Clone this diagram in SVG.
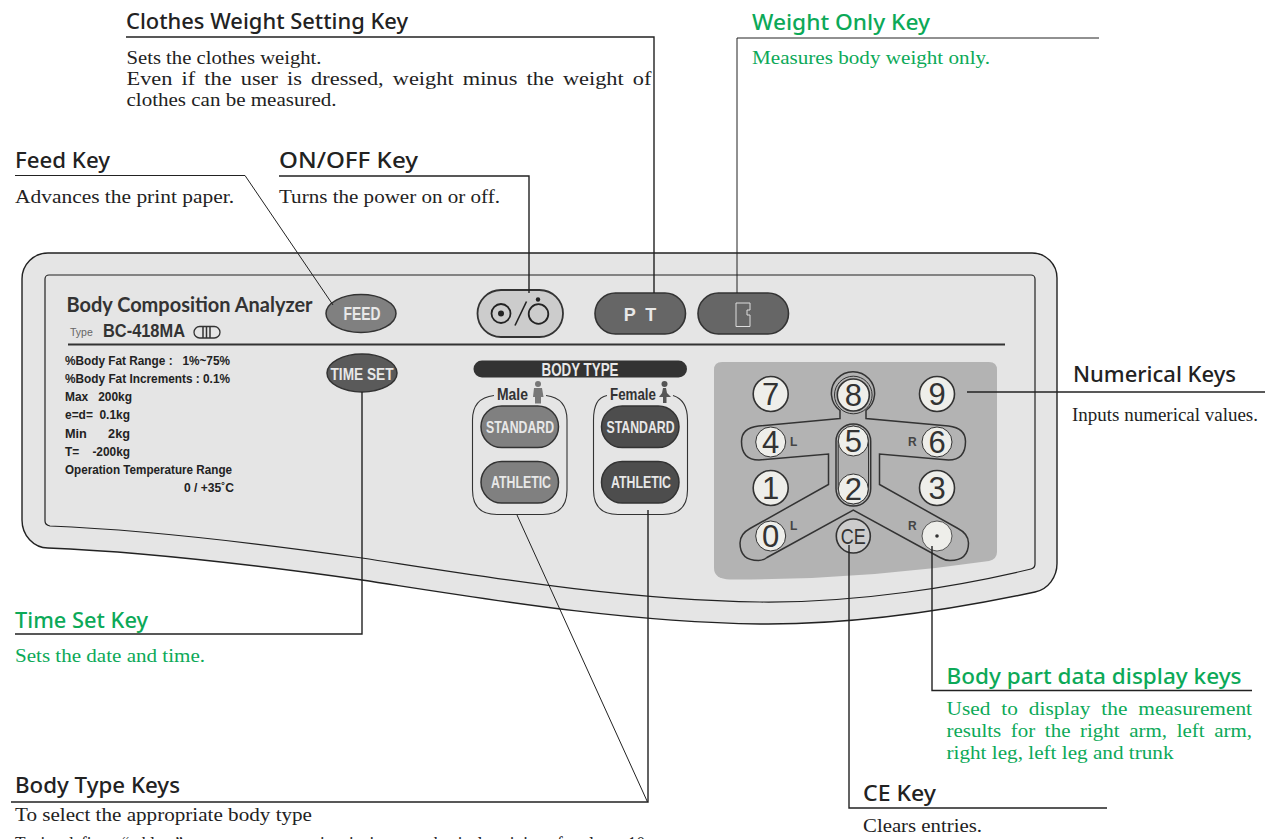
<svg xmlns="http://www.w3.org/2000/svg" width="1265" height="839" viewBox="0 0 1265 839">
<style>
.h{font-family:"Noto Sans","Open Sans",sans-serif;font-size:21.500px;font-weight:500;fill:#222}
.g{fill:#0ca958}
.b{font-family:"Liberation Serif",serif;font-size:19px;fill:#222}
.bg{fill:#0ca958}
.c{fill:none;stroke:#222;stroke-width:1.400}
.s{font-family:"Liberation Sans",sans-serif;font-size:13px;font-weight:700;fill:#222}
.kt{font-family:"Liberation Sans",sans-serif;font-weight:700;fill:#e8e8e8;text-anchor:middle}
.k{fill:#eeeeea;stroke:#333;stroke-width:1.600}
.n{font-family:"Liberation Sans",sans-serif;font-size:31px;fill:#333;text-anchor:middle}
.lr{font-family:"Liberation Sans",sans-serif;font-size:12px;font-weight:700;fill:#444}
.o{fill:none;stroke:#333;stroke-width:1.500}
</style>
<rect width="1265" height="839" fill="#fff"/>
<g id="panel">
<path d="M48 253H1032A25 25 0 0 1 1057 278V563A27 29 0 0 1 1035 592C960 608 860 625 760 624C620 622 480 598 362 580C270 567 150 552 48 548A26 28 0 0 1 22 520V279A26 26 0 0 1 48 253Z" fill="#e5e5e5" stroke="#222" stroke-width="1.400"/>
<path d="M49 275H1031A4 4 0 0 1 1035 279V564Q1035 568 1031 569C960 586 860 603 760 602C620 600 480 576 362 558C270 545 150 530 50 526Q45 525 45 521V279A4 4 0 0 1 49 275Z" fill="none" stroke="#222" stroke-width="1.200"/>
<line x1="68" y1="344.500" x2="1005" y2="344.500" stroke="#333" stroke-width="2"/>
<text x="66.500" y="312" font-family="Lato,sans-serif" font-size="21" font-weight="700" fill="#333" textLength="246" lengthAdjust="spacingAndGlyphs">Body Composition Analyzer</text>
<text x="70" y="336" font-family="Liberation Sans,sans-serif" font-size="10.500" fill="#666">Type</text>
<text x="103" y="337" font-family="Liberation Sans,sans-serif" font-size="18" font-weight="700" fill="#333" textLength="82" lengthAdjust="spacingAndGlyphs">BC-418MA</text>
<rect x="194" y="326.500" width="26" height="11.500" rx="5.700" fill="none" stroke="#333" stroke-width="1.300"/>
<path d="M203 327V338M206.500 327V338M210 327V338" stroke="#333" stroke-width="1.500"/>
<text class="s" x="65" y="365" textLength="165" lengthAdjust="spacingAndGlyphs" xml:space="preserve">%Body Fat Range :   1%~75%</text>
<text class="s" x="65" y="383" textLength="165" lengthAdjust="spacingAndGlyphs">%Body Fat Increments : 0.1%</text>
<text class="s" x="65" y="401" textLength="67" lengthAdjust="spacingAndGlyphs" xml:space="preserve">Max   200kg</text>
<text class="s" x="65" y="419" textLength="65" lengthAdjust="spacingAndGlyphs" xml:space="preserve">e=d=  0.1kg</text>
<text class="s" x="65" y="438" textLength="65" lengthAdjust="spacingAndGlyphs" xml:space="preserve">Min      2kg</text>
<text class="s" x="65" y="456" textLength="65" lengthAdjust="spacingAndGlyphs" xml:space="preserve">T=    -200kg</text>
<text class="s" x="65" y="474" textLength="167" lengthAdjust="spacingAndGlyphs">Operation Temperature Range</text>
<text class="s" x="184" y="492" textLength="50" lengthAdjust="spacingAndGlyphs">0 / +35˚C</text>
</g>
<g id="key-feed">
<ellipse cx="361" cy="313.500" rx="35" ry="19" fill="#808080" stroke="#333" stroke-width="1.500"/>
<text class="kt" x="362" y="320" font-size="19" textLength="37" lengthAdjust="spacingAndGlyphs">FEED</text>
</g>
<g id="key-time-set">
<ellipse cx="362" cy="373" rx="35" ry="19" fill="#5a5a5a" stroke="#333" stroke-width="1.500"/>
<text class="kt" x="362" y="379.500" font-size="17" textLength="63" lengthAdjust="spacingAndGlyphs">TIME SET</text>
</g>
<g id="key-on-off">
<rect x="477.500" y="290" width="85.500" height="47" rx="23.500" fill="#ccc" stroke="#333" stroke-width="1.800"/>
<circle cx="501" cy="313.500" r="9.500" fill="none" stroke="#222" stroke-width="1.800"/>
<circle cx="501" cy="313.500" r="3" fill="#222"/>
<line x1="515" y1="325.500" x2="526.500" y2="301.500" stroke="#222" stroke-width="1.600"/>
<circle cx="538.500" cy="314" r="9.800" fill="none" stroke="#222" stroke-width="1.800"/>
<circle cx="538" cy="299.500" r="2.200" fill="#222"/>
</g>
<g id="key-pt">
<rect x="595" y="293" width="90.500" height="41" rx="20.500" fill="#666" stroke="#333" stroke-width="1.600"/>
<text class="kt" x="640" y="321" font-size="18" xml:space="preserve">P  T</text>
</g>
<g id="key-weight">
<rect x="698" y="293" width="90.500" height="41" rx="20.500" fill="#666" stroke="#333" stroke-width="1.600"/>
<path d="M736 303H750V310H747V315H750V326.500H736Z" fill="none" stroke="#ddd" stroke-width="1"/>
</g>
<g id="body-type">
<rect x="473.500" y="360.500" width="213.500" height="17" rx="8.500" fill="#333"/>
<text class="kt" x="580" y="375.500" font-size="17.500" textLength="77" lengthAdjust="spacingAndGlyphs">BODY TYPE</text>
<path d="M494 395.500Q472.500 398 472.500 420V490Q472.500 514.500 497 514.500H543Q567 514.500 567 490V420Q567 398 546 395.500" class="o" style="stroke-width:1.100"/>
<path d="M607 395.500Q593.500 398 593.500 420V490Q593.500 514.500 618 514.500H663Q687.500 514.500 687.500 490V420Q687.500 400 673 395.500" class="o" style="stroke-width:1.100"/>
<text x="497" y="400" font-family="Liberation Sans,sans-serif" font-size="16.500" font-weight="700" fill="#333" textLength="31" lengthAdjust="spacingAndGlyphs">Male</text>
<text x="610" y="400" font-family="Liberation Sans,sans-serif" font-size="16.500" font-weight="700" fill="#333" textLength="46" lengthAdjust="spacingAndGlyphs">Female</text>
<circle cx="538" cy="384" r="3" fill="#777"/>
<path d="M534 388H542L543.500 397H541V403.500H535V397H533Z" fill="#777"/>
<circle cx="664.500" cy="384" r="3" fill="#555"/>
<path d="M663 388H666L667 393L671 397H666.500V403H663V397H659L662 393Z" fill="#555"/>
</g>
<g id="key-male-standard">
<rect x="481" y="406" width="77.500" height="41.500" rx="20.700" fill="#808080" stroke="#333" stroke-width="1.500"/>
<text class="kt" x="520" y="432.500" font-size="16.500" textLength="68" lengthAdjust="spacingAndGlyphs">STANDARD</text>
</g>
<g id="key-male-athletic">
<rect x="481" y="461.500" width="77.500" height="41.500" rx="20.700" fill="#808080" stroke="#333" stroke-width="1.500"/>
<text class="kt" x="521" y="488" font-size="16.500" textLength="60" lengthAdjust="spacingAndGlyphs">ATHLETIC</text>
</g>
<g id="key-female-standard">
<rect x="601.500" y="406" width="77.500" height="41.500" rx="20.700" fill="#4d4d4d" stroke="#333" stroke-width="1.500"/>
<text class="kt" x="640.500" y="432.500" font-size="16.500" textLength="68" lengthAdjust="spacingAndGlyphs">STANDARD</text>
</g>
<g id="key-female-athletic">
<rect x="601.500" y="461.500" width="77.500" height="41.500" rx="20.700" fill="#4d4d4d" stroke="#333" stroke-width="1.500"/>
<text class="kt" x="641" y="488" font-size="16.500" textLength="60" lengthAdjust="spacingAndGlyphs">ATHLETIC</text>
</g>
<g id="keypad">
<path d="M722 362H989Q997 362 997 370V552Q997 559 989 561Q860 580 730 579.500Q714 579 714 568V370Q714 362 722 362Z" fill="#b3b3b3"/>
<path d="M840 418.500L758.500 426Q741.500 428 741.500 441.500Q741.500 460 759 460L828.500 454V484.500L750 528.500Q740 534 740 543Q740 560.500 758.500 560.500Q763 560.500 767 557.500L853.300 510L940 557.500Q945 560.500 950 560.500Q968.500 560.500 968.500 543Q968.500 534 958 528.500L879.500 484.500V454L948.500 460Q965.500 460 965.500 441.500Q965.500 428 948.500 426L866 418.500V410.500A21.600 21.600 0 1 0 840 410.500Z" class="o"/>
<circle cx="853.300" cy="395" r="18.800" class="o" style="stroke-width:1"/>
<rect x="836" y="424" width="34.700" height="82" rx="17.300" class="o"/>
<rect x="838.200" y="426.200" width="30.300" height="77.600" rx="15.100" class="o" style="stroke-width:1"/>
</g>
<g id="key-7"><circle class="k" cx="770.700" cy="394" r="17.500"/><text class="n" x="770.700" y="405">7</text></g>
<g id="key-8"><circle class="k" cx="853.300" cy="395" r="16"/><text class="n" x="853.300" y="406">8</text></g>
<g id="key-9"><circle class="k" cx="937" cy="394" r="17.500"/><text class="n" x="937" y="405">9</text></g>
<g id="key-4"><circle class="k" cx="770.700" cy="442" r="15" style="stroke-width:1"/><text class="n" x="770.700" y="453">4</text><text class="lr" x="790" y="446">L</text></g>
<g id="key-5"><circle class="k" cx="853.300" cy="441" r="15" style="stroke-width:1"/><text class="n" x="853.300" y="452">5</text></g>
<g id="key-6"><circle class="k" cx="937" cy="442" r="15" style="stroke-width:1"/><text class="n" x="937" y="453">6</text><text class="lr" x="908" y="446">R</text></g>
<g id="key-1"><circle class="k" cx="770.700" cy="488" r="17.500"/><text class="n" x="770.700" y="499">1</text></g>
<g id="key-2"><circle class="k" cx="853.300" cy="489" r="15" style="stroke-width:1"/><text class="n" x="853.300" y="500">2</text></g>
<g id="key-3"><circle class="k" cx="937" cy="488" r="17.500"/><text class="n" x="937" y="499">3</text></g>
<g id="key-0"><circle class="k" cx="770.700" cy="536" r="15" style="stroke-width:1"/><text class="n" x="770.700" y="547">0</text><text class="lr" x="790" y="530">L</text></g>
<g id="key-ce"><circle cx="853.300" cy="536" r="17" fill="#ccc" stroke="#333" stroke-width="1.600"/><text class="n" x="853.300" y="544" style="font-size:22px" textLength="25" lengthAdjust="spacingAndGlyphs">CE</text></g>
<g id="key-dot"><circle class="k" cx="937" cy="536" r="15" style="stroke-width:.8"/><circle cx="937" cy="536" r="1.800" fill="#333"/><text class="lr" x="908" y="530">R</text></g>
<g id="connectors" class="c">
<path d="M126 37H654V293"/>
<path d="M737 38H1099M737 38V293" style="stroke-width:1"/>
<path d="M15 175.500H245L333 305" style="stroke-width:1"/>
<path d="M279 176H529V293"/>
<path d="M15 634H362V392"/>
<path d="M967 392H1265"/>
<path d="M849 545V808H1107"/>
<path d="M932 546V690.500H1252"/>
<path d="M11 802H648V510"/>
<path d="M517 515L647.500 802" style="stroke-width:1"/>
</g>
<g id="labels">
<text class="h" x="126" y="29" textLength="282" lengthAdjust="spacingAndGlyphs">Clothes Weight Setting Key</text>
<text class="b" x="126.500" y="64" textLength="195" lengthAdjust="spacingAndGlyphs">Sets the clothes weight.</text>
<text class="b" x="126.500" y="85" textLength="525" lengthAdjust="spacingAndGlyphs" word-spacing="3">Even if the user is dressed, weight minus the weight of</text>
<text class="b" x="126.500" y="106" textLength="210" lengthAdjust="spacingAndGlyphs">clothes can be measured.</text>
<text class="h g" x="752" y="30" textLength="178" lengthAdjust="spacingAndGlyphs">Weight Only Key</text>
<text class="b bg" x="752" y="64" textLength="238" lengthAdjust="spacingAndGlyphs">Measures body weight only.</text>
<text class="h" x="15" y="168" textLength="95" lengthAdjust="spacingAndGlyphs">Feed Key</text>
<text class="b" x="15" y="203" textLength="219" lengthAdjust="spacingAndGlyphs">Advances the print paper.</text>
<text class="h" x="279" y="168" textLength="139" lengthAdjust="spacingAndGlyphs">ON/OFF Key</text>
<text class="b" x="279" y="203" textLength="221" lengthAdjust="spacingAndGlyphs">Turns the power on or off.</text>
<text class="h" x="1073" y="382" textLength="163" lengthAdjust="spacingAndGlyphs">Numerical Keys</text>
<text class="b" x="1072" y="421" textLength="186" lengthAdjust="spacingAndGlyphs">Inputs numerical values.</text>
<text class="h g" x="15" y="628" textLength="133" lengthAdjust="spacingAndGlyphs">Time Set Key</text>
<text class="b bg" x="15" y="662" textLength="190" lengthAdjust="spacingAndGlyphs">Sets the date and time.</text>
<text class="h g" x="946.500" y="684" textLength="295" lengthAdjust="spacingAndGlyphs">Body part data display keys</text>
<text class="b bg" x="946.500" y="715" textLength="305.500" lengthAdjust="spacingAndGlyphs" word-spacing="5">Used to display the measurement</text>
<text class="b bg" x="946.500" y="737" textLength="305.500" lengthAdjust="spacingAndGlyphs" word-spacing="4">results for the right arm, left arm,</text>
<text class="b bg" x="946.500" y="759" textLength="227" lengthAdjust="spacingAndGlyphs">right leg, left leg and trunk</text>
<text class="h" x="863" y="801" textLength="73" lengthAdjust="spacingAndGlyphs">CE Key</text>
<text class="b" x="863" y="832" textLength="119" lengthAdjust="spacingAndGlyphs">Clears entries.</text>
<text class="h" x="15" y="793" textLength="165" lengthAdjust="spacingAndGlyphs">Body Type Keys</text>
<text class="b" x="15" y="821" textLength="297" lengthAdjust="spacingAndGlyphs">To select the appropriate body type</text>
<text class="b" x="15" y="850" textLength="630" lengthAdjust="spacingAndGlyphs" word-spacing="3">Tanita defines “athlete” as a person engaging in intense physical activity of at least 10</text>
</g>
</svg>
